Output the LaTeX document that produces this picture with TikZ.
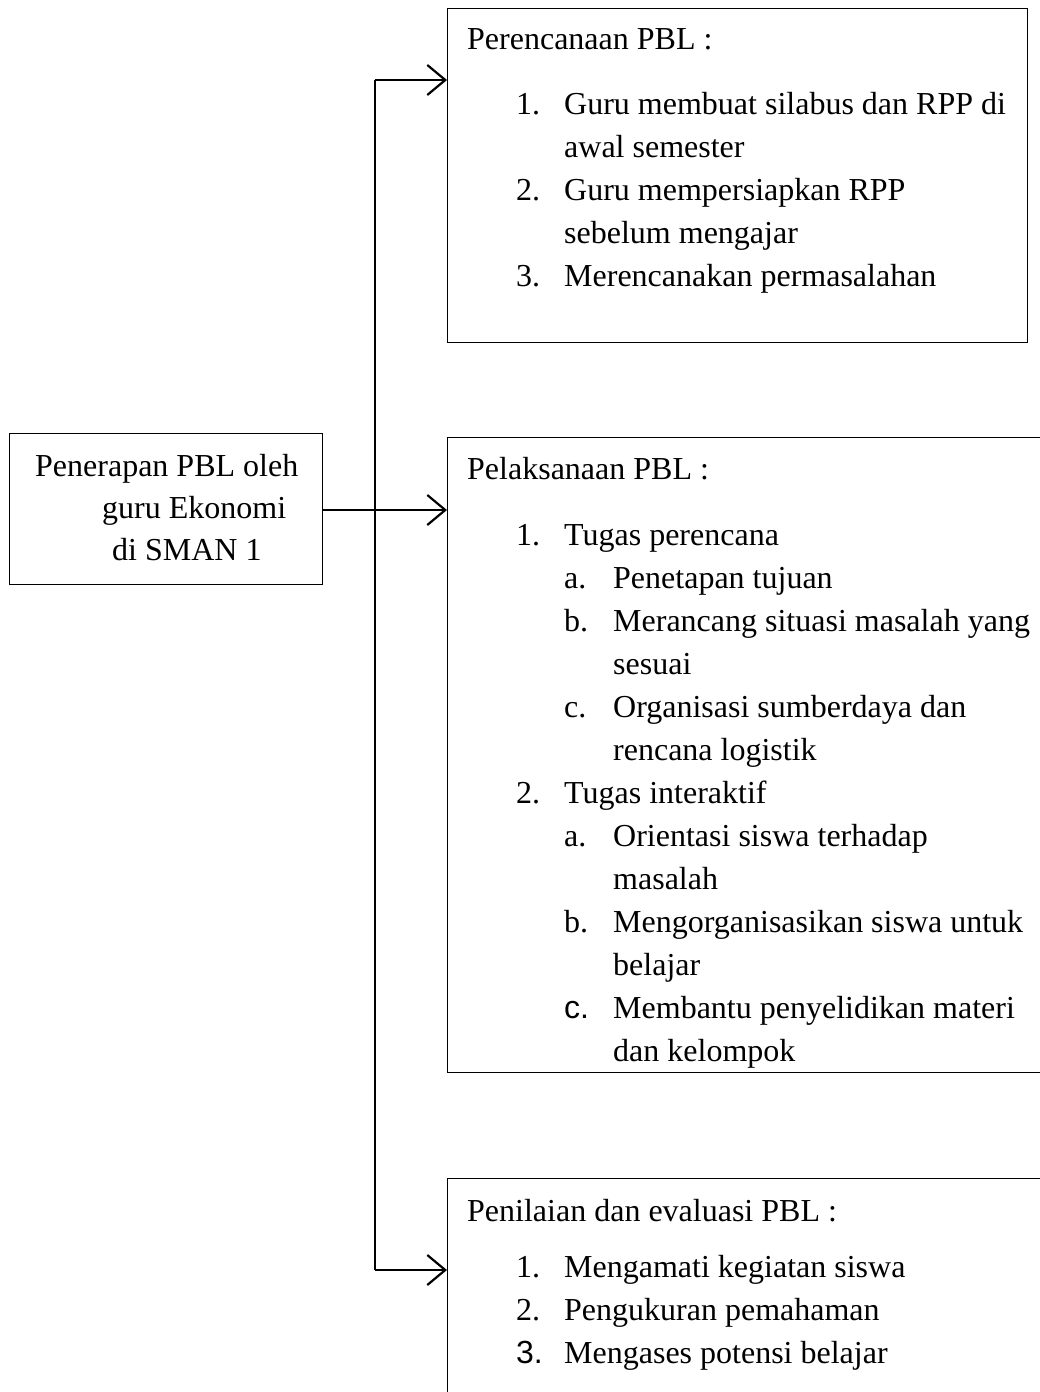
\documentclass[tikz,border=0pt]{standalone}
\usepackage{fontspec}
\setmainfont{Liberation Serif}
\newfontfamily\arialfont{Liberation Sans}
\usetikzlibrary{arrows.meta}
\begin{document}
\begin{tikzpicture}[x=1pt,y=-1pt,
  txt/.style={anchor=base west,inner sep=0pt,font=\fontsize{32}{38}\selectfont},
  boxline/.style={draw=black,line width=1.4pt},
  conn/.style={draw=black,line width=2pt},
  arr/.style={conn,-{Straight Barb[length=18pt,width=30pt,line width=2.2pt]}}]
\useasboundingbox (0,0) rectangle (1039,1392);
% boxes
\node[boxline,minimum width=313pt,minimum height=151pt,anchor=north west,inner sep=0pt] (src) at (9,433) {};
\node[boxline,minimum width=580pt,minimum height=334pt,anchor=north west,inner sep=0pt] (b1) at (447,8) {};
\node[boxline,minimum width=620pt,minimum height=635pt,anchor=north west,inner sep=0pt] (b2) at (447,437) {};
\node[boxline,minimum width=620pt,minimum height=260pt,anchor=north west,inner sep=0pt] (b3) at (447,1178) {};
% source text
\node[txt] (s1) at (35,476) {Penerapan PBL oleh};
\node[txt] (s2) at (102,518) {guru Ekonomi};
\node[txt] (s3) at (112,560) {di SMAN 1};
% box 1
\node[txt] (h1) at (467,49) {Perencanaan PBL :};
\node[txt] (n11) at (516,114) {1.};
\node[txt] (t11) at (564,114) {Guru membuat silabus dan RPP di};
\node[txt] (t11b) at (564,157) {awal semester};
\node[txt] (n12) at (516,200) {2.};
\node[txt] (t12) at (564,200) {Guru mempersiapkan RPP};
\node[txt] (t12b) at (564,243) {sebelum mengajar};
\node[txt] (n13) at (516,286) {3.};
\node[txt] (t13) at (564,286) {Merencanakan permasalahan};
% box 2
\node[txt] (h2) at (467,479) {Pelaksanaan PBL :};
\node[txt] (n21) at (516,545) {1.};
\node[txt] (t21) at (564,545) {Tugas perencana};
\node[txt] (a21) at (564,588) {a.};
\node[txt] (ta21) at (613,588) {Penetapan tujuan};
\node[txt] (b21) at (564,631) {b.};
\node[txt] (tb21) at (613,631) {Merancang situasi masalah yang};
\node[txt] (tb21b) at (613,674) {sesuai};
\node[txt] (c21) at (564,717) {c.};
\node[txt] (tc21) at (613,717) {Organisasi sumberdaya dan};
\node[txt] (tc21b) at (613,760) {rencana logistik};
\node[txt] (n22) at (516,803) {2.};
\node[txt] (t22) at (564,803) {Tugas interaktif};
\node[txt] (a22) at (564,846) {a.};
\node[txt] (ta22) at (613,846) {Orientasi siswa terhadap};
\node[txt] (ta22b) at (613,889) {masalah};
\node[txt] (b22) at (564,932) {b.};
\node[txt] (tb22) at (613,932) {Mengorganisasikan siswa untuk};
\node[txt] (tb22b) at (613,975) {belajar};
\node[txt,font=\fontsize{32}{38}\arialfont] (c22) at (564,1018) {c.};
\node[txt] (tc22) at (613,1018) {Membantu penyelidikan materi};
\node[txt] (tc22b) at (613,1061) {dan kelompok};
% box 3
\node[txt] (h3) at (467,1221) {Penilaian dan evaluasi PBL :};
\node[txt] (n31) at (516,1277) {1.};
\node[txt] (t31) at (564,1277) {Mengamati kegiatan siswa};
\node[txt] (n32) at (516,1320) {2.};
\node[txt] (t32) at (564,1320) {Pengukuran pemahaman};
\node[txt,font=\fontsize{32}{38}\arialfont] (n33) at (516,1363) {3.};
\node[txt] (t33) at (564,1363) {Mengases potensi belajar};
% connectors
\coordinate (top) at (375,80);
\coordinate (bot) at (375,1270);
\draw[conn] (top) -- (bot);
\draw[arr] (src.east |- 0,510) -- (b2.west |- 0,510);
\draw[arr] (top) -- (b1.west |- top);
\draw[arr] (bot) -- (b3.west |- bot);
\end{tikzpicture}
\end{document}
